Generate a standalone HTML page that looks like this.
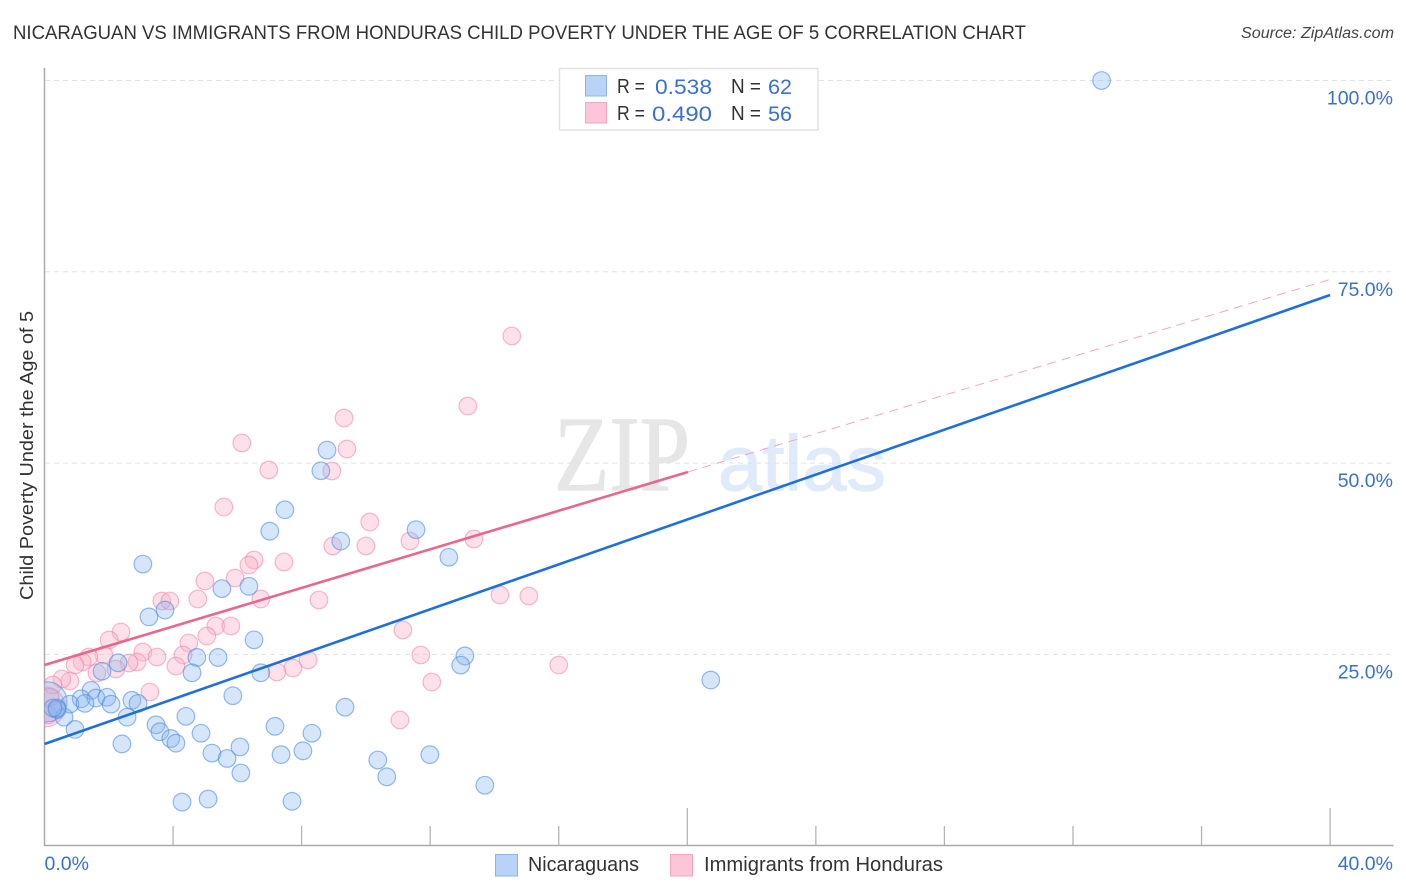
<!DOCTYPE html>
<html lang="en">
<head>
<meta charset="utf-8">
<title>Nicaraguan vs Immigrants from Honduras Child Poverty Correlation Chart</title>
<style>
html,body{margin:0;padding:0;background:#fff;}
body{width:1406px;height:892px;overflow:hidden;}
svg{display:block;font-family:"Liberation Sans",sans-serif;}
</style>
</head>
<body>
<svg id="chart" xmlns="http://www.w3.org/2000/svg" width="1406" height="892" viewBox="0 0 1406 892">
  <defs>
    <clipPath id="plot-clip"><rect x="44.5" y="60" width="1350" height="785.5"/></clipPath>
  </defs>
  <text x="13" y="39" font-size="19.5" fill="#333" textLength="1013" lengthAdjust="spacingAndGlyphs">NICARAGUAN VS IMMIGRANTS FROM HONDURAS CHILD POVERTY UNDER THE AGE OF 5 CORRELATION CHART</text>
  <text x="1241" y="38" font-size="15.5" font-style="italic" fill="#444" textLength="153" lengthAdjust="spacingAndGlyphs">Source: ZipAtlas.com</text>
  <g>
    <text x="554" y="490" font-family="'Liberation Serif',serif" font-size="107" fill="#e6e6e6" stroke="#e6e6e6" stroke-width="1.2" textLength="136" lengthAdjust="spacingAndGlyphs">ZIP</text>
    <text x="718" y="490" font-size="78" fill="#dfeafa" stroke="#dfeafa" stroke-width="1.2" textLength="168" lengthAdjust="spacingAndGlyphs">atlas</text>
  </g>
  <g id="grid"></g>
  <g id="axes"></g>
  <g id="points" clip-path="url(#plot-clip)"></g>
  <g id="trends"></g>
  <text transform="translate(33,455.5) rotate(-90)" text-anchor="middle" font-size="18.5" fill="#333" textLength="289" lengthAdjust="spacingAndGlyphs">Child Poverty Under the Age of 5</text>

  <g>
    <rect x="559.5" y="68.5" width="258.5" height="61.5" fill="#fff" stroke="#e2e2e2" stroke-width="1.5"/>
    <rect x="585.5" y="75.5" width="21" height="20.5" fill="#b8d3f7" stroke="#8fb3e4" stroke-width="1"/>
    <rect x="585.5" y="102.5" width="21" height="20.5" fill="#fcc6d8" stroke="#f5a6bf" stroke-width="1"/>
    <g font-size="20" fill="#333">
      <text x="617" y="93" textLength="28" lengthAdjust="spacingAndGlyphs">R =</text>
      <text x="731" y="93" textLength="30" lengthAdjust="spacingAndGlyphs">N =</text>
      <text x="617" y="120" textLength="28" lengthAdjust="spacingAndGlyphs">R =</text>
      <text x="731" y="120" textLength="30" lengthAdjust="spacingAndGlyphs">N =</text>
    </g>
    <g font-size="21.5" fill="#3a70cf">
      <text x="655" y="94" textLength="57" lengthAdjust="spacingAndGlyphs">0.538</text>
      <text x="768" y="94" textLength="24" lengthAdjust="spacingAndGlyphs">62</text>
      <text x="652" y="121" textLength="60" lengthAdjust="spacingAndGlyphs">0.490</text>
      <text x="768" y="121" textLength="24" lengthAdjust="spacingAndGlyphs">56</text>
    </g>
  </g>

  <g>
    <rect x="495.5" y="854.5" width="22" height="21.5" fill="#b8d3f7" stroke="#8fb3e4" stroke-width="1"/>
    <text x="528" y="871" font-size="20" fill="#333" textLength="111" lengthAdjust="spacingAndGlyphs">Nicaraguans</text>
    <rect x="670.5" y="854.5" width="22" height="21.5" fill="#fcc6d8" stroke="#f5a6bf" stroke-width="1"/>
    <text x="704" y="871" font-size="20" fill="#333" textLength="239" lengthAdjust="spacingAndGlyphs">Immigrants from Honduras</text>
  </g>
</svg>
<script>
const blueX = [32.89,20.73,8.79,8.6,7.48,7.01,9.22,11.56,12.58,3.06,5.52,6.36,3.75,3.25,6.52,4.74,5.4,4.59,6.73,13.08,12.95,2.29,1.79,5.86,9.35,1.45,1.14,1.6,1.94,0.79,1.26,2.07,2.72,2.91,2.57,0.61,0.95,2.41,3.47,3.59,3.93,4.09,4.4,4.87,5.21,5.68,6.08,6.11,7.17,7.36,8.04,8.32,10.37,10.65,11.99,13.7,4.28,5.09,7.7,0.39,0.39,0.26];
const blueY = [100,21.65,51.7,49.0,43.9,41.1,39.8,41.3,37.7,36.8,33.6,33.9,30.8,29.9,26.9,24.6,24.6,22.6,22.6,24.8,23.6,23.9,22.8,19.6,18.1,20.3,19.2,19.3,19.4,18.5,18.6,18.5,19.0,18.6,16.8,16.8,15.2,13.3,15.8,14.9,14.0,13.4,16.9,14.7,12.1,11.4,12.9,9.5,15.6,11.9,12.4,14.7,11.2,9.0,11.9,7.9,5.7,6.1,5.8,18.0,17.8,18.0];
const pinkX = [9.32,6.14,9.41,8.94,6.98,5.58,10.12,8.97,10.0,11.37,13.36,7.45,6.52,6.36,5.93,4.99,6.73,8.54,14.54,13.17,14.17,15.07,11.15,11.71,12.05,11.06,16.0,8.2,7.73,7.23,4.77,3.65,3.9,5.33,5.8,5.05,4.49,2.38,2.01,3.06,3.5,4.31,4.09,3.28,2.88,2.63,2.22,1.85,1.38,1.17,0.95,1.63,0.79,0.54,0.26,0.17,0.11];
const pinkY = [55.89,52.63,51.84,48.97,49.1,44.26,42.3,39.17,39.17,39.82,40.08,37.08,37.34,36.68,34.98,34.59,32.24,32.11,66.61,57.46,32.76,32.63,28.19,24.92,21.39,16.43,23.61,24.27,23.22,22.7,32.24,31.98,31.98,28.71,28.71,27.4,26.49,27.93,26.88,25.31,24.66,24.92,23.48,20.09,24.01,23.88,23.09,24.92,24.66,24.01,23.61,22.57,21.52,21.79,21.0,19.43,17.08];
const aggregateX = [0.08,0.02];
const aggregateY = [18.8,18.13];
const aggregateSeries = ['blue','pink'];
const blueTrendX = [0,40];
const blueTrendY = [13.29,71.97];
const pinkTrendSolidX = [0,20.02];
const pinkTrendSolidY = [23.61,48.84];
const pinkTrendDashX = [20.02,40];
const pinkTrendDashY = [48.84,74.0];
const xTickValues = [4,8,12,16,20,24,28,32,36,40];
const xMajorTicks = [20,40];
const yGridValues = [25,50,75,100];
const yLabels = ['25.0%','50.0%','75.0%','100.0%'];
const xEndValues = [0,40];
const xEndLabels = ['0.0%','40.0%'];

const NS = 'http://www.w3.org/2000/svg';
function xScale(v){ return 44.5 + v * 32.14; }
function yScale(v){ return 845.7 - v * 7.652; }
function make(tag, attrs, parent){
  const el = document.createElementNS(NS, tag);
  for (const k in attrs) el.setAttribute(k, attrs[k]);
  parent.appendChild(el);
  return el;
}
const grid = document.getElementById('grid');
const axes = document.getElementById('axes');
const points = document.getElementById('points');
const trends = document.getElementById('trends');

yGridValues.forEach(function(v, i){
  const line = make('line', {x1:45, x2:1393, y1:yScale(v), y2:yScale(v), stroke:'#e2e2e2', 'stroke-width':1, 'stroke-dasharray':'5 4'}, grid);
  
  
  const label = make('text', {x:1393, y:yScale(v)+24, 'text-anchor':'end', 'font-size':19.5, fill:'#3a70cf'}, axes);
  
  
  label.textContent = yLabels[i];
});

const yAxis = make('line', {x1:44.5, x2:44.5, y1:68, y2:846, stroke:'#aaa', 'stroke-width':1.5}, axes);


const xAxis = make('line', {x1:44, x2:1393.5, y1:845.5, y2:845.5, stroke:'#aaa', 'stroke-width':1.5}, axes);



xTickValues.forEach(function(v){
  const top = xMajorTicks.indexOf(v) >= 0 ? 808 : 826;
  const tick = make('line', {x1:xScale(v), x2:xScale(v), y1:top, y2:845, stroke:'#b4b4b4', 'stroke-width':1.3}, axes);
  
  
});
xEndValues.forEach(function(v, i){
  const label = make('text', {x: i === 0 ? xScale(v) : 1393, y:870, 'text-anchor': i === 0 ? 'start' : 'end', 'font-size':19.5, fill:'#3a70cf'}, axes);
  
  
  label.textContent = xEndLabels[i];
});

const styles = {
  blue: {fill:'rgba(130,180,240,0.33)', stroke:'rgba(80,140,225,0.6)'},
  pink: {fill:'rgba(250,180,202,0.42)', stroke:'rgba(238,130,168,0.55)'}
};
function drawAggregate(series){
  aggregateSeries.forEach(function(s, i){
    if (s !== series) return;
    const big = make('circle', {cx:xScale(aggregateX[i]), cy:yScale(aggregateY[i]), r:20, fill:styles[s].fill, stroke:styles[s].stroke, 'stroke-width':1.1}, points);
    
    
  });
}
function drawSeries(xs, ys, series){
  xs.forEach(function(x, i){
    const dot = make('circle', {cx:xScale(x), cy:yScale(ys[i]), r:8.8, fill:styles[series].fill, stroke:styles[series].stroke, 'stroke-width':1.2}, points);
    
    
  });
}
drawAggregate('pink');
drawSeries(pinkX, pinkY, 'pink');
drawAggregate('blue');
drawSeries(blueX, blueY, 'blue');

const blueLine = make('line', {x1:xScale(blueTrendX[0]), y1:yScale(blueTrendY[0]), x2:xScale(blueTrendX[1]), y2:yScale(blueTrendY[1]), stroke:'#1f6fdc', 'stroke-width':2.6}, trends);


const pinkLine = make('line', {x1:xScale(pinkTrendSolidX[0]), y1:yScale(pinkTrendSolidY[0]), x2:xScale(pinkTrendSolidX[1]), y2:yScale(pinkTrendSolidY[1]), stroke:'#e9668f', 'stroke-width':2.6}, trends);


const pinkDash = make('line', {x1:xScale(pinkTrendDashX[0]), y1:yScale(pinkTrendDashY[0]), x2:xScale(pinkTrendDashX[1]), y2:yScale(pinkTrendDashY[1]), stroke:'#efa9c0', 'stroke-width':1, 'stroke-dasharray':'9 6'}, trends);


</script>
</body>
</html>
